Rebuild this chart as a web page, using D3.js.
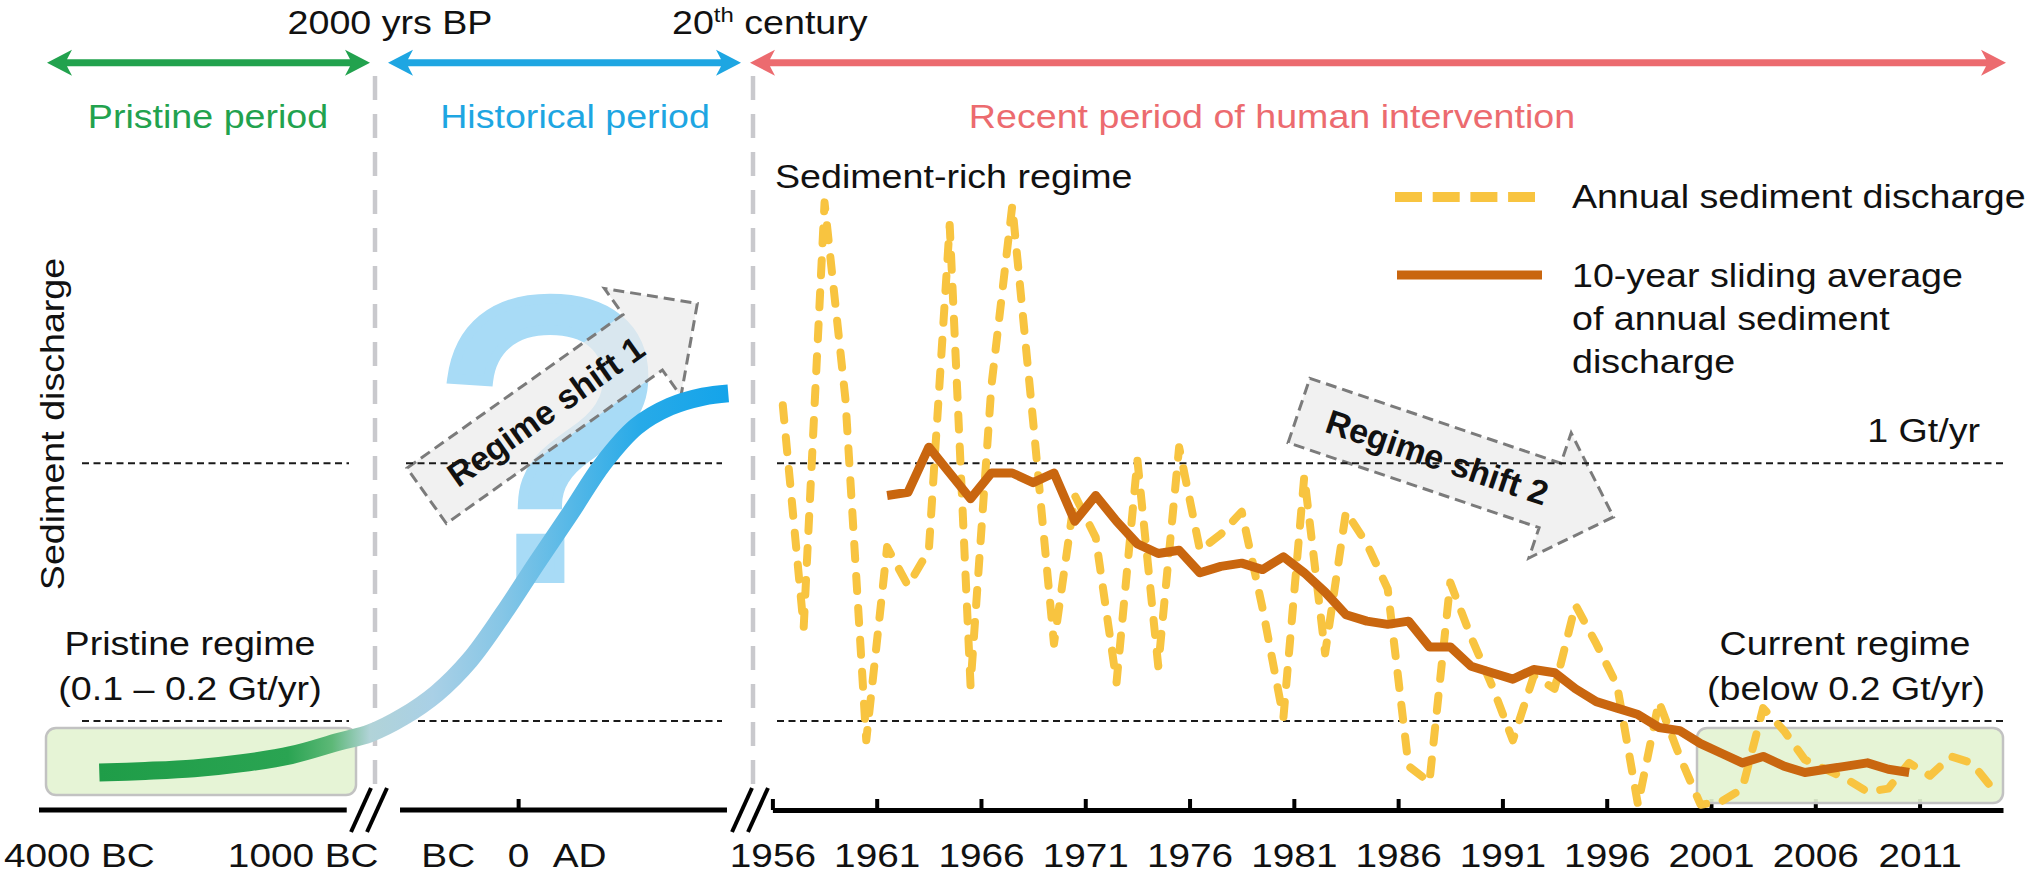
<!DOCTYPE html>
<html><head><meta charset="utf-8">
<script src="https://cdn.jsdelivr.net/npm/d3@7"></script>
<style>
html,body{margin:0;padding:0;background:#fff;}
svg{display:block;}
text{font-family:"Liberation Sans",Arial,Helvetica,sans-serif;}
</style></head><body>
<svg id="chart" width="2032" height="877"></svg>
<script>
// ---------------- DATA ----------------
const years = d3.range(1956, 2015);
const annualDischarge = [
  1.18, 0.49, 1.81, 1.20, 0.14, 0.74, 0.62, 0.73, 1.74, 0.31,
  1.24, 1.80, 1.13, 0.44, 0.90, 0.77, 0.32, 1.01, 0.37, 1.05,
  0.73, 0.78, 0.85, 0.55, 0.21, 0.96, 0.41, 0.85, 0.75, 0.61,
  0.06, 0.01, 0.63, 0.46, 0.31, 0.14, 0.34, 0.30, 0.56, 0.44,
  0.31, -0.06, 0.26, 0.09, -0.06, -0.05, -0.01, 0.24, 0.17, 0.08,
  0.05, 0.02, -0.02, -0.01, 0.07, 0.03, 0.09, 0.07, -0.01
];
const avgYears = d3.range(1961, 2011);
const slidingAverage = [
  0.90, 0.91, 1.05, 0.97, 0.89, 0.97, 0.97, 0.94, 0.97, 0.82,
  0.90, 0.82, 0.75, 0.72, 0.73, 0.66, 0.68, 0.69, 0.67, 0.71,
  0.66, 0.60, 0.53, 0.51, 0.50, 0.51, 0.43, 0.43, 0.37, 0.35,
  0.33, 0.36, 0.35, 0.30, 0.26, 0.24, 0.22, 0.18, 0.17, 0.13,
  0.10, 0.07, 0.09, 0.06, 0.04, 0.05, 0.06, 0.07, 0.05, 0.04
];
const yearTickValues = [1956, 1961, 1966, 1971, 1976, 1981, 1986, 1991, 1996, 2001, 2006, 2011];
// schematic pre-modern curve: position on schematic timeline (0-100) and discharge (Gt/yr)
const historicalT = [8.4, 14.8, 21.6, 28.3, 35.1, 41.8, 46.1, 50.7, 55.4, 60.0, 64.7, 69.3, 74.0, 78.6, 83.2, 87.9, 92.5, 96.0];
const historicalV = [0.040, 0.045, 0.053, 0.069, 0.094, 0.136, 0.162, 0.213, 0.286, 0.389, 0.534, 0.690, 0.845, 1.000, 1.114, 1.176, 1.207, 1.217];
const eraLabels = ["4000 BC", "1000 BC", "BC", "0", "AD"];
const eraLabelT = [0.0, 36.8, 57.0, 66.8, 75.3];
const refValues = [1, 0.2];
const periodNames = ["Pristine period", "Historical period", "Recent period of human intervention"];
const legendLabels = ["Annual sediment discharge", "10-year sliding average", "of annual sediment", "discharge"];

// ---------------- SETUP ----------------
const svg = d3.select("#chart");
const SX = 1.14; // horizontal stretch of the reference's lettering
const C = {green:"#22a24e", blue:"#1ea6e2", red:"#ec6b6f", yellow:"#f8c440", orange:"#c9660f",
           grayDash:"#c9c9cd", qmark:"#a8dbf6"};

const y = d3.scaleLinear().domain([0.2, 1]).range([721, 463.3]);
const xYear = d3.scaleLinear().domain([1956, 2015]).range([772.4, 2003]);
const xEra = d3.scaleLinear().domain([0, 100]).range([39, 757]);
const AXIS_Y = 810;

function label(g, x, yy, str, o = {}) {
  const t = g.append("text")
    .attr("transform", `translate(${x},${yy}) scale(${o.sx || SX},1)`)
    .attr("text-anchor", o.anchor || "start")
    .attr("font-size", o.size || 33)
    .attr("font-weight", o.weight || "normal")
    .attr("fill", o.fill || "#111");
  if (str !== null) t.text(str);
  return t;
}

const defs = svg.append("defs");
const grad = defs.append("linearGradient").attr("id", "histGrad")
  .attr("gradientUnits", "userSpaceOnUse")
  .attr("x1", xEra(historicalT[0])).attr("x2", xEra(historicalT[historicalT.length - 1]))
  .attr("y1", 0).attr("y2", 0);
[[0, "#1f9d48"], [0.30, "#2aa452"], [0.37, "#5db877"], [0.43, "#b1d3d8"], [0.53, "#a9d0e6"],
 [0.64, "#86c6e6"], [0.75, "#56b8e7"], [0.86, "#27aae8"], [1, "#14a4ea"]]
  .forEach(([o, c]) => grad.append("stop").attr("offset", o).attr("stop-color", c));

// ---------------- DIVIDERS ----------------
[375, 753].forEach(x => svg.append("line")
  .attr("x1", x).attr("x2", x).attr("y1", 76).attr("y2", 795)
  .attr("stroke", C.grayDash).attr("stroke-width", 4.5).attr("stroke-dasharray", "24,14"));

// ---------------- QUESTION MARK ----------------
svg.append("text").attr("x", 547).attr("y", 578).attr("text-anchor", "middle")
  .attr("font-size", 400).attr("fill", C.qmark).attr("stroke", C.qmark).attr("stroke-width", 10)
  .text("?");

// ---------------- REGIME SHIFT ARROWS ----------------
function blockArrow(cx, cy, angle, text) {
  const g = svg.append("g").attr("transform", `translate(${cx},${cy}) rotate(${angle})`);
  const L = 265, T = 34, HL = 67, HW = 66;
  g.append("path")
    .attr("d", `M0,${-T}H${L}V${-HW}L${L + HL},0L${L},${HW}V${T}H0Z`)
    .attr("fill", "#ececec").attr("fill-opacity", 0.72)
    .attr("stroke", "#7b7b7b").attr("stroke-width", 3).attr("stroke-dasharray", "11,6");
  g.append("text").attr("x", 146).attr("y", 12).attr("text-anchor", "middle")
    .attr("font-size", 34).attr("font-weight", "bold").attr("fill", "#111").text(text);
}
blockArrow(426.7, 495.8, -35.4, "Regime shift 1");
blockArrow(1299, 410.5, 18.7, "Regime shift 2");

// ---------------- REFERENCE LINES ----------------
const refSegs = [[[82, 349], [406, 722], [777, 2005]], [[82, 349], [418, 722], [777, 2005]]];
refValues.forEach((v, i) => refSegs[i].forEach(([a, b]) => svg.append("line")
  .attr("x1", a).attr("x2", b).attr("y1", y(v)).attr("y2", y(v))
  .attr("stroke", "#1a1a1a").attr("stroke-width", 2).attr("stroke-dasharray", "7,4.5")));

// ---------------- AXES ----------------
const axisG = svg.append("g").attr("transform", `translate(0,${AXIS_Y})`)
  .call(d3.axisBottom(xYear).tickValues(yearTickValues).tickFormat(d3.format("d"))
    .tickSize(-11).tickSizeOuter(0).tickPadding(33));
axisG.attr("font-family", null).attr("font-size", null);
axisG.select(".domain").attr("stroke", "#000").attr("stroke-width", 5);
axisG.selectAll(".tick line").attr("stroke", "#000").attr("stroke-width", 4);
axisG.selectAll(".tick text").attr("font-size", 34).attr("fill", "#111")
  .attr("transform", `scale(${SX},1)`);

const eraAxis = svg.append("g");
[[0, 42.86], [50.28, 95.82]].forEach(([a, b]) => eraAxis.append("line")
  .attr("x1", xEra(a)).attr("x2", xEra(b)).attr("y1", AXIS_Y).attr("y2", AXIS_Y)
  .attr("stroke", "#000").attr("stroke-width", 5));
eraAxis.append("line").attr("x1", xEra(66.8)).attr("x2", xEra(66.8))
  .attr("y1", AXIS_Y).attr("y2", AXIS_Y - 11).attr("stroke", "#000").attr("stroke-width", 4);
[361, 377, 742, 758].forEach(cx => eraAxis.append("line")
  .attr("x1", cx - 10).attr("y1", AXIS_Y + 22).attr("x2", cx + 10).attr("y2", AXIS_Y - 22)
  .attr("stroke", "#000").attr("stroke-width", 4));
eraLabels.forEach((s, i) => label(eraAxis, i === 0 ? 4 : xEra(eraLabelT[i]), 867, s,
  {size: 34, anchor: i === 0 ? "start" : "middle"}));

// ---------------- REGIME BOXES (beneath the curves) ----------------
[[46, 728, 310, 67], [1697, 728, 306, 75]].forEach(([x, yy, w, h]) => svg.append("rect")
  .attr("x", x).attr("y", yy).attr("width", w).attr("height", h).attr("rx", 10)
  .attr("fill", "#e4f3d3").attr("fill-opacity", 0.92)
  .attr("stroke", "#c2c2c2").attr("stroke-width", 2.5));

// ---------------- HISTORICAL CURVE ----------------
const histData = historicalT.map((t, i) => ({t, v: historicalV[i]}));
svg.append("path").datum(histData)
  .attr("d", d3.line().x(d => xEra(d.t)).y(d => y(d.v)).curve(d3.curveCatmullRom.alpha(0.5)))
  .attr("fill", "none").attr("stroke", "url(#histGrad)").attr("stroke-width", 18);

// ---------------- DATA LINES ----------------
const annual = years.map((yr, i) => ({yr, v: annualDischarge[i]}));
const avg = avgYears.map((yr, i) => ({yr, v: slidingAverage[i]}));
const lineGen = d3.line().x(d => xYear(d.yr + 0.5)).y(d => y(d.v));
svg.append("path").datum(annual).attr("d", lineGen)
  .attr("fill", "none").attr("stroke", C.yellow).attr("stroke-width", 8)
  .attr("stroke-dasharray", "15,17").attr("stroke-linecap", "round").attr("stroke-linejoin", "round");
svg.append("path").datum(avg).attr("d", lineGen)
  .attr("fill", "none").attr("stroke", C.orange).attr("stroke-width", 9)
  .attr("stroke-linejoin", "round").attr("stroke-linecap", "butt");

// ---------------- TOP PERIOD ARROWS ----------------
function dblArrow(x1, x2, yc, color) {
  const hl = 25, hh = 13, th = 3.5, nk = 20;
  svg.append("path").attr("fill", color).attr("d",
    `M${x1},${yc}L${x1 + hl},${yc - hh}L${x1 + nk},${yc - th}H${x2 - nk}L${x2 - hl},${yc - hh}L${x2},${yc}` +
    `L${x2 - hl},${yc + hh}L${x2 - nk},${yc + th}H${x1 + nk}L${x1 + hl},${yc + hh}Z`);
}
dblArrow(47, 370, 62.7, C.green);
dblArrow(388, 741, 62.7, C.blue);
dblArrow(750, 2006, 62.7, C.red);

const T = svg.append("g");
label(T, 390, 34, "2000 yrs BP", {anchor: "middle"});
const cent = label(T, 672, 34, null);
cent.append("tspan").text("20");
cent.append("tspan").attr("font-size", 21).attr("dy", -12).text("th");
cent.append("tspan").attr("dy", 12).text(" century");

label(T, 208, 127.5, periodNames[0], {anchor: "middle", fill: C.green});
label(T, 575, 127.5, periodNames[1], {anchor: "middle", fill: C.blue});
label(T, 1272, 127.5, periodNames[2], {anchor: "middle", fill: C.red});

label(T, 775, 188, "Sediment-rich regime");
label(T, 1980, 442, "1 Gt/yr", {anchor: "end"});

label(T, 190, 655, "Pristine regime", {anchor: "middle"});
label(T, 190, 700, "(0.1 \u2013 0.2 Gt/yr)", {anchor: "middle"});
label(T, 1845, 655, "Current regime", {anchor: "middle"});
label(T, 1846, 700, "(below 0.2 Gt/yr)", {anchor: "middle"});

T.append("text").attr("transform", `translate(64,424) rotate(-90) scale(${SX},1)`)
  .attr("text-anchor", "middle").attr("font-size", 33).attr("fill", "#111").text("Sediment discharge");

// ---------------- LEGEND ----------------
const Lg = svg.append("g");
Lg.append("line").attr("x1", 1395).attr("x2", 1535).attr("y1", 197).attr("y2", 197)
  .attr("stroke", C.yellow).attr("stroke-width", 10).attr("stroke-dasharray", "27,10.7");
Lg.append("line").attr("x1", 1397).attr("x2", 1542).attr("y1", 275).attr("y2", 275)
  .attr("stroke", C.orange).attr("stroke-width", 9);
label(Lg, 1572, 208, legendLabels[0]);
label(Lg, 1572, 287, legendLabels[1]);
label(Lg, 1572, 330, legendLabels[2]);
label(Lg, 1572, 373, legendLabels[3]);
</script>
</body></html>
